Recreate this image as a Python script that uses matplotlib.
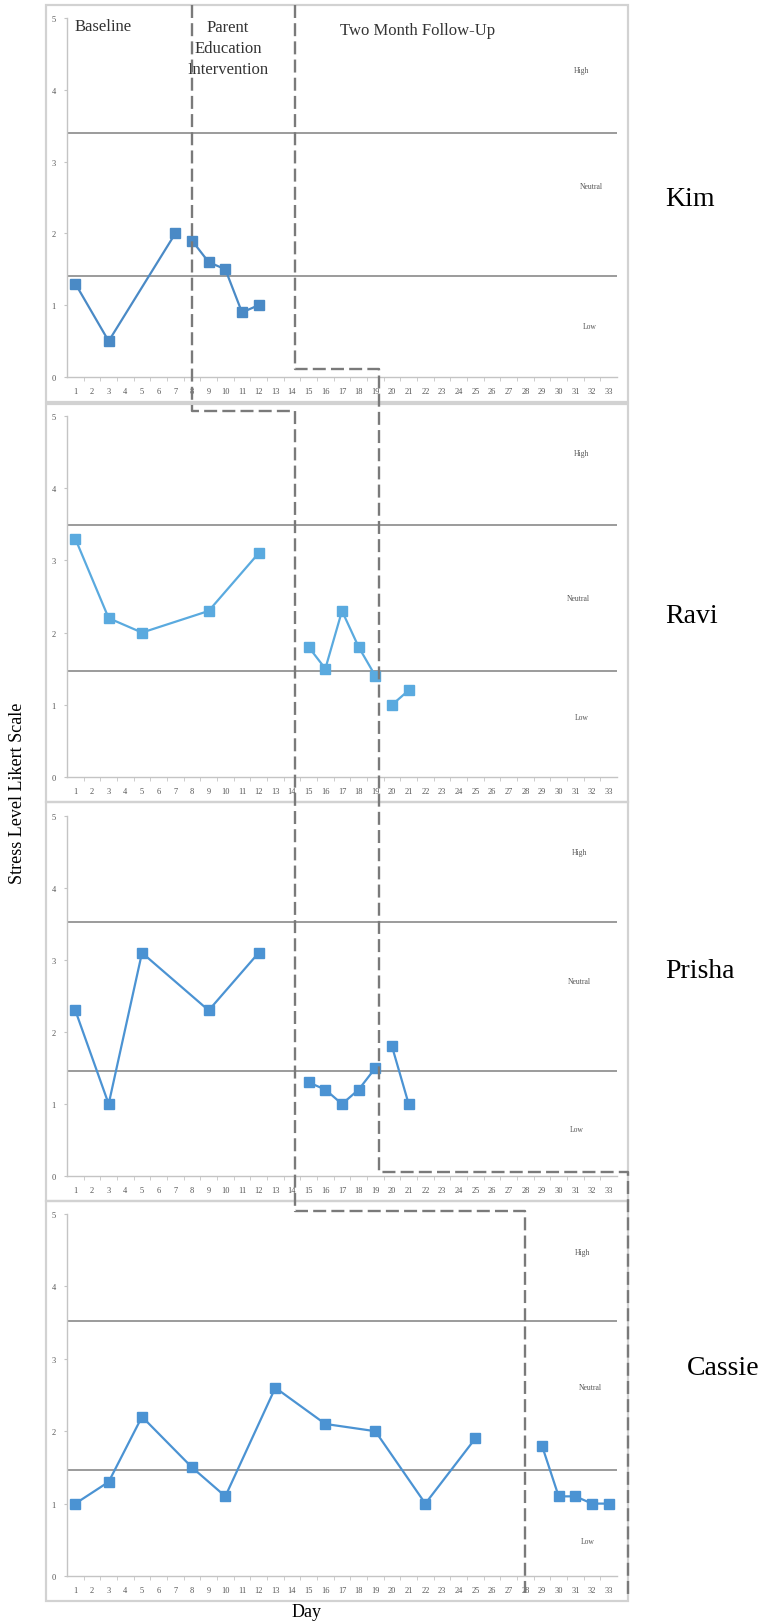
import numpy as np
import matplotlib
matplotlib.use("Agg")
import matplotlib.pyplot as plt
from matplotlib.lines import Line2D
from matplotlib.patches import Rectangle

plt.rcParams['font.family'] = ['Liberation Serif', 'DejaVu Serif']

W, H = 762, 1624

# stress ratings per participant, split into connected runs
names = ['Kim', 'Ravi', 'Prisha', 'Cassie']

kim_days = [[1, 3, 7], [8, 9, 10, 11, 12]]
kim_vals = [[1.3, 0.5, 2.0], [1.9, 1.6, 1.5, 0.9, 1.0]]

ravi_days = [[1, 3, 5, 9, 12], [15, 16, 17, 18, 19], [20, 21]]
ravi_vals = [[3.3, 2.2, 2.0, 2.3, 3.1], [1.8, 1.5, 2.3, 1.8, 1.4], [1.0, 1.2]]

prisha_days = [[1, 3, 5, 9, 12], [15, 16, 17, 18, 19], [20, 21]]
prisha_vals = [[2.3, 1.0, 3.1, 2.3, 3.1], [1.3, 1.2, 1.0, 1.2, 1.5], [1.8, 1.0]]

cassie_days = [[1, 3, 5, 8, 10, 13, 16, 19, 22, 25], [29, 30, 31, 32, 33]]
cassie_vals = [[1.0, 1.3, 2.2, 1.5, 1.1, 2.6, 2.1, 2.0, 1.0, 1.9],
               [1.8, 1.1, 1.1, 1.0, 1.0]]

all_days = [kim_days, ravi_days, prisha_days, cassie_days]
all_vals = [kim_vals, ravi_vals, prisha_vals, cassie_vals]

# Neutral band limits (low / high cut-offs)
low_cut = [1.4, 1.47, 1.46, 1.46]
high_cut = [3.4, 3.49, 3.53, 3.52]

colors = ['#4a8ac6', '#5aaadf', '#4b93d3', '#4b93d3']
day_labels = [str(d) for d in range(1, 34)]

# axes frames in pixels: (top, bottom) of the 0..5 range
ax_rows = [(19, 378), (417, 778), (817, 1177), (1215, 1577)]
ax_left, ax_right = 67, 617
box_rows = [(6, 403), (405, 803), (803, 1202), (1202, 1602)]
zone_y = [(71, 187, 327), (454, 599, 718), (853, 982, 1130), (1253, 1388, 1542)]
zone_x = [(581, 591, 590), (581, 578, 582), (579, 579, 577), (582, 590, 588)]
name_pos = [(690, 200), (692, 617), (700, 972), (723, 1369)]


def fx(x):
    return x / W


def fy(y):
    return 1 - y / H


def day_px(d):
    return ax_left + (d - 0.5) / 33 * (ax_right - ax_left)


fig = plt.figure(figsize=(W / 100, H / 100), dpi=100)
fig.patch.set_facecolor('white')

# panel boxes
for top, bot in box_rows:
    fig.add_artist(Rectangle((fx(46), fy(bot)), fx(628) - fx(46), fy(top) - fy(bot),
                             transform=fig.transFigure, fill=False,
                             edgecolor='#d2d2d2', lw=1.6, zorder=0))

for i in range(4):
    top, bot = ax_rows[i]
    ax = fig.add_axes([fx(ax_left), fy(bot), fx(ax_right) - fx(ax_left), fy(top) - fy(bot)])
    ax.set_facecolor('none')
    ax.set_xlim(0.5, 33.5)
    ax.set_ylim(0, 5)
    for s in ['top', 'right']:
        ax.spines[s].set_visible(False)
    for s in ['left', 'bottom']:
        ax.spines[s].set_color('#c4c4c4')
        ax.spines[s].set_linewidth(1.0)
    ax.set_xticks(range(1, 34))
    ax.set_xticklabels(day_labels)
    ax.set_xticks(np.arange(1.5, 33.5, 1), minor=True)
    ax.tick_params(axis='x', which='major', length=0, pad=7, labelsize=6, labelcolor='#555555')
    ax.tick_params(axis='x', which='minor', length=3, color='#c4c4c4', direction='out')
    ax.set_yticks(range(6))
    ax.tick_params(axis='y', length=2, color='#c4c4c4', pad=6, labelsize=6, labelcolor='#555555')

    ax.axhline(high_cut[i], color='#8a8a8a', lw=1.2, zorder=1)
    ax.axhline(low_cut[i], color='#8a8a8a', lw=1.2, zorder=1)

    for d, v in zip(all_days[i], all_vals[i]):
        ax.plot(d, v, color=colors[i], lw=1.6, marker='s', ms=7.5,
                markerfacecolor=colors[i], markeredgecolor=colors[i], zorder=3)

    hx, nx, lx = zone_x[i]
    hy, ny, ly = zone_y[i]
    fig.text(fx(hx), fy(hy), 'High', fontsize=5.5, color='#555555', ha='center', va='center')
    fig.text(fx(nx), fy(ny), 'Neutral', fontsize=5.5, color='#555555', ha='center', va='center')
    fig.text(fx(lx), fy(ly), 'Low', fontsize=5.5, color='#555555', ha='center', va='center')

    px, py = name_pos[i]
    fig.text(fx(px), fy(py), names[i], fontsize=20, ha='center', va='center')

# phase-change lines (staircase across participants)
d8, d14, d19, d28 = day_px(8), day_px(14.2), day_px(19.2), day_px(28)
phase_lines = [
    [(d8, 6), (d8, 412), (d14, 412), (d14, 1212), (d28, 1212), (d28, 1594)],
    [(d14, 6), (d14, 370), (d19, 370), (d19, 1173), (628, 1173), (628, 1598)],
]
for pts in phase_lines:
    xs = [fx(p[0]) for p in pts]
    ys = [fy(p[1]) for p in pts]
    fig.add_artist(Line2D(xs, ys, transform=fig.transFigure, color='#7a7a7a',
                          lw=1.7, dashes=(5.5, 2.2), zorder=5))

# phase titles
fig.text(fx(75), fy(27), 'Baseline', fontsize=12, color='#333333', ha='left', va='center')
fig.text(fx(228), fy(49), 'Parent\nEducation\nIntervention', fontsize=12, color='#333333',
         ha='center', va='center', linespacing=1.4)
fig.text(fx(418), fy(31), 'Two Month Follow-Up', fontsize=12, color='#333333',
         ha='center', va='center')

fig.text(fx(18), fy(793), 'Stress Level Likert Scale', fontsize=13, rotation=90,
         ha='center', va='center')
fig.text(fx(307), fy(1613), 'Day', fontsize=13, ha='center', va='center')

fig.savefig('out.png', dpi=100, facecolor='white')
